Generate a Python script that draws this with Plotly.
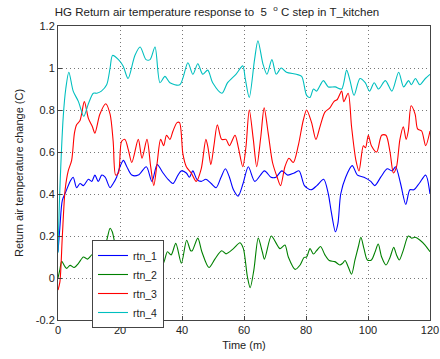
import plotly.graph_objects as go

# ---- data ----
t1 = [0, 0.6, 1.4, 2.5, 3.9, 4.9, 6.0, 7.1, 8.2, 9.8, 10.9, 11.9, 13.0, 14.1, 15.2, 16.8, 17.8, 18.9, 20.0, 21.1, 22.2, 23.8, 25.9, 28.5, 30.3, 32.0, 33.9, 35.5, 37.1, 38.7, 39.8, 41.4, 42.4, 43.5, 44.8, 46.2, 47.7, 49.4, 51.0, 52.6, 54.0, 55.3, 56.6, 58.1, 59.7, 61.4, 63.5, 66.6, 68.7, 70.3, 72.2, 74.1, 76.2, 77.8, 79.5, 81.6, 83.5, 85.7, 87.2, 88.1, 89.5, 90.3, 91.2, 92.8, 94.9, 96.6, 98.7, 100.9, 102.2, 104.1, 106.2, 107.8, 108.9, 110.5, 112.2, 113.5, 114.8, 116.5, 118.6, 120]
rtn_1 = [0.125, 0.24, 0.37, 0.41, 0.46, 0.48, 0.43, 0.45, 0.44, 0.47, 0.46, 0.49, 0.46, 0.49, 0.48, 0.43, 0.45, 0.48, 0.53, 0.56, 0.53, 0.49, 0.49, 0.53, 0.46, 0.54, 0.50, 0.47, 0.45, 0.49, 0.51, 0.50, 0.48, 0.51, 0.47, 0.46, 0.47, 0.45, 0.43, 0.48, 0.52, 0.48, 0.42, 0.39, 0.45, 0.53, 0.46, 0.51, 0.48, 0.48, 0.51, 0.49, 0.50, 0.51, 0.44, 0.42, 0.44, 0.47, 0.40, 0.32, 0.22, 0.26, 0.40, 0.48, 0.535, 0.49, 0.48, 0.46, 0.44, 0.48, 0.52, 0.51, 0.53, 0.45, 0.35, 0.42, 0.42, 0.45, 0.49, 0.40]

t2 = [0, 0.6, 1.2, 2.2, 2.8, 3.9, 5.2, 6.6, 8.2, 9.5, 10.9, 12.5, 14.0, 15.5, 16.8, 17.5, 18.5, 20, 22, 24, 26, 28, 30, 32, 33.9, 35.3, 36.5, 38.0, 39.8, 41.5, 42.8, 43.3, 45.1, 46.4, 48.7, 50.6, 52.8, 54.2, 56.6, 58.7, 59.8, 61.1, 62.0, 63.2, 64.6, 65.9, 66.6, 68.8, 70.4, 71.6, 73.2, 74.3, 76.5, 78.1, 79.4, 80.2, 81.3, 82.4, 83.4, 84.7, 86.1, 87.5, 89.3, 90.9, 91.8, 92.6, 93.6, 94.7, 95.8, 96.9, 97.7, 98.7, 99.8, 101.1, 102.3, 103.3, 104.4, 105.8, 107.1, 108.3, 109.2, 110.1, 111.4, 113.0, 114.1, 115.2, 116.8, 118.4, 120]
rtn_2 = [0.0, 0.04, 0.08, 0.055, 0.046, 0.06, 0.05, 0.07, 0.10, 0.09, 0.11, 0.12, 0.14, 0.17, 0.237, 0.22, 0.16, 0.12, 0.14, 0.10, 0.13, 0.09, 0.12, 0.10, 0.07, 0.125, 0.11, 0.165, 0.07, 0.18, 0.13, 0.13, 0.19, 0.125, 0.05, 0.09, 0.13, 0.115, 0.14, 0.168, 0.14, 0.006, -0.046, 0.04, 0.19, 0.125, 0.09, 0.20, 0.165, 0.14, 0.157, 0.10, 0.041, 0.062, 0.098, 0.10, 0.14, 0.114, 0.13, 0.15, 0.11, 0.083, 0.078, 0.062, 0.07, 0.083, 0.054, 0.018, 0.086, 0.15, 0.194, 0.14, 0.086, 0.086, 0.125, 0.162, 0.10, 0.062, 0.098, 0.146, 0.11, 0.086, 0.133, 0.20, 0.19, 0.194, 0.18, 0.157, 0.125]

t3 = [0, 0.6, 1.4, 2.3, 3.3, 4.4, 5.3, 6.0, 7.1, 8.5, 9.8, 11.1, 11.9, 13.5, 15.4, 16.8, 17.8, 18.6, 19.5, 20.5, 21.6, 22.7, 23.8, 25.9, 27.1, 28.7, 29.9, 30.9, 32.0, 33.1, 34.1, 35.0, 36.1, 37.1, 38.4, 39.2, 40.3, 41.4, 43.0, 44.6, 46.2, 47.7, 48.4, 49.3, 50.3, 51.4, 52.8, 54.2, 55.3, 57.1, 58.2, 59.6, 60.6, 61.7, 63.0, 64.1, 65.4, 66.5, 67.8, 69.2, 70.7, 71.8, 73.2, 74.5, 75.9, 77.5, 79.1, 80.2, 81.8, 83.2, 84.5, 86.1, 87.7, 89.0, 90.1, 91.5, 92.2, 93.6, 94.7, 96.1, 97.1, 98.5, 99.2, 100.1, 101.1, 102.8, 104.4, 105.8, 107.1, 108.2, 109.2, 110.3, 111.4, 112.3, 113.0, 113.9, 115.2, 116.0, 117.3, 118.6, 120]
rtn_3 = [-0.057, -0.02, 0.2, 0.42, 0.51, 0.56, 0.69, 0.73, 0.75, 0.84, 0.76, 0.72, 0.69, 0.78, 0.83, 0.78, 0.65, 0.49, 0.50, 0.65, 0.66, 0.61, 0.55, 0.66, 0.57, 0.66, 0.53, 0.44, 0.55, 0.66, 0.63, 0.68, 0.66, 0.70, 0.74, 0.74, 0.59, 0.53, 0.50, 0.46, 0.52, 0.66, 0.62, 0.54, 0.63, 0.73, 0.66, 0.66, 0.63, 0.68, 0.62, 0.53, 0.62, 0.80, 0.66, 0.53, 0.67, 0.81, 0.69, 0.55, 0.48, 0.44, 0.53, 0.57, 0.55, 0.63, 0.75, 0.80, 0.74, 0.66, 0.72, 0.79, 0.81, 0.84, 0.85, 0.89, 0.84, 0.88, 0.72, 0.56, 0.51, 0.63, 0.62, 0.68, 0.63, 0.60, 0.68, 0.68, 0.60, 0.50, 0.53, 0.66, 0.72, 0.66, 0.70, 0.82, 0.78, 0.71, 0.70, 0.63, 0.70]

t4 = [0, 0.6, 1.7, 2.5, 3.5, 4.9, 6.6, 8.3, 9.8, 11.4, 12.5, 14.0, 15.7, 16.8, 17.6, 19.5, 21.0, 22.6, 24.8, 26.5, 28.4, 29.7, 31.3, 32.9, 34.5, 36.1, 39.3, 41.9, 43.5, 45.1, 46.7, 48.3, 49.9, 52.9, 54.7, 57.4, 59.6, 60.4, 61.7, 63.4, 64.5, 66.1, 67.4, 69.0, 70.4, 72.0, 73.7, 76.9, 78.6, 80.2, 81.3, 82.4, 83.4, 85.6, 87.2, 89.4, 91.5, 93.1, 94.2, 95.5, 97.4, 99.1, 100.5, 102.0, 103.4, 105.6, 107.7, 109.9, 111.5, 113.1, 114.0, 115.3, 116.7, 118.5, 120]
rtn_4 = [0.12, 0.42, 0.77, 0.90, 0.98, 0.89, 0.84, 0.77, 0.83, 0.88, 0.88, 0.89, 0.92, 1.0, 1.06, 1.04, 1.01, 0.95, 1.06, 1.10, 1.04, 1.04, 1.10, 0.93, 0.96, 0.93, 0.92, 1.025, 0.97, 1.02, 0.97, 0.99, 0.93, 0.88, 0.93, 0.97, 1.01, 0.95, 0.86, 1.04, 1.13, 1.02, 0.97, 1.04, 0.97, 1.0, 0.98, 0.97, 0.96, 0.87, 0.86, 0.90, 0.89, 0.94, 0.91, 0.91, 0.90, 0.99, 0.94, 0.87, 0.95, 0.93, 0.89, 0.93, 0.90, 0.94, 0.89, 0.98, 0.91, 0.94, 0.92, 0.95, 0.92, 0.95, 0.97]

names = ["rtn_1", "rtn_2", "rtn_3", "rtn_4"]
colors = ["#0000ff", "#008000", "#ff0000", "#00bfbf"]
x_ticks = [0, 20, 40, 60, 80, 100, 120]
y_ticks = [-0.2, 0, 0.2, 0.4, 0.6, 0.8, 1, 1.2]
y_tick_text = ["-0.2", "0", "0.2", "0.4", "0.6", "0.8", "1", "1.2"]

FONT = "Liberation Sans, Arial, sans-serif"

fig = go.Figure()
for t, v, n, c in zip([t1, t2, t3, t4], [rtn_1, rtn_2, rtn_3, rtn_4], names, colors):
    fig.add_trace(go.Scatter(x=t, y=v, name=n, mode="lines",
                             line=dict(color=c, width=1.1, shape="spline", smoothing=0.8)))

axis_common = dict(showline=True, linecolor="#444444", linewidth=1, mirror=True,
                   ticks="inside", ticklen=4, tickcolor="#444444",
                   showgrid=True, gridcolor="#777777", griddash="1px,3px", gridwidth=1,
                   zeroline=False, automargin=False,
                   tickfont=dict(size=11, color="#222222", family=FONT))

fig.update_layout(
    width=440, height=359,
    margin=dict(l=58, r=10, t=26, b=39),
    paper_bgcolor="white", plot_bgcolor="white",
    font=dict(family=FONT, size=11, color="#222222"),
    title=dict(text="HG Return air temperature response to  5  <sup>o</sup> C step in T_kitchen",
               x=217/440, xanchor="center", y=1 - 12/359, yanchor="middle",
               font=dict(size=11.5, family=FONT, color="#222222")),
    xaxis=dict(range=[0, 120], tickvals=x_ticks,
               title=dict(text="Time (m)", standoff=6, font=dict(size=11)), **axis_common),
    yaxis=dict(range=[-0.2, 1.2], tickvals=y_ticks, ticktext=y_tick_text,
               title=dict(text="Return air temperature change (C)", standoff=9, font=dict(size=11)),
               **axis_common),
    legend=dict(x=(92-58)/372, y=(320-240)/294, xanchor="left", yanchor="top",
                bgcolor="white", bordercolor="#444444", borderwidth=1,
                font=dict(size=10.5, family=FONT, color="#222222"),
                itemwidth=30, tracegroupgap=0),
    showlegend=True,
)

fig.write_html("out.html", config={"displayModeBar": False},
               post_script="document.body.style.margin='0';document.body.style.padding='0';")
